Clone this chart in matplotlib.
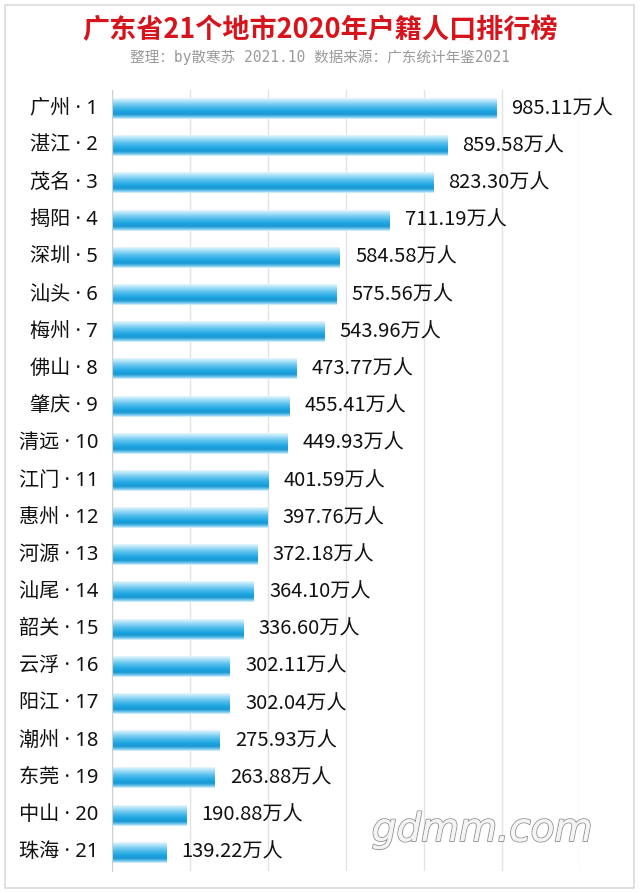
import numpy as np
import matplotlib
matplotlib.use('Agg')
import matplotlib.pyplot as plt
import matplotlib.patheffects as pe
from matplotlib.colors import LinearSegmentedColormap
from matplotlib.patches import Rectangle

plt.rcParams['font.family'] = ['Noto Sans CJK SC', 'DejaVu Sans']

cities = ['广州', '湛江', '茂名', '揭阳', '深圳', '汕头', '梅州', '佛山', '肇庆', '清远', '江门',
          '惠州', '河源', '汕尾', '韶关', '云浮', '阳江', '潮州', '东莞', '中山', '珠海']
population = [985.11, 859.58, 823.30, 711.19, 584.58, 575.56, 543.96, 473.77, 455.41, 449.93, 401.59,
              397.76, 372.18, 364.10, 336.60, 302.11, 302.04, 275.93, 263.88, 190.88, 139.22]
title = '广东省21个地市2020年户籍人口排行榜'
subtitle = '整理：by散寒苏 2021.10 数据来源：广东统计年鉴2021'

fig = plt.figure(figsize=(6.4, 8.93), dpi=100)
fig.patch.set_facecolor('white')
# thin grey frame around the picture
fig.patches.append(Rectangle((5 / 640, 5 / 893), 629 / 640, 883 / 893, transform=fig.transFigure,
                             fill=False, edgecolor='#dadada', linewidth=1.2))

ax = fig.add_axes([112 / 640, 1 - 871 / 893, 468 / 640, 781 / 893])

# cylinder-like vertical gradient, top -> bottom
grad = LinearSegmentedColormap.from_list('bar', [
    (0.0, '#e6f6fd'), (0.15, '#a9e1f8'), (0.4, '#52bdec'),
    (0.62, '#1ea6e2'), (0.78, '#1998d2'), (0.92, '#7ccbef'), (1.0, '#e0f3fc')])
g = np.linspace(0, 1, 64).reshape(-1, 1)

n = len(cities)
h = 0.56
label_font = ['Noto Sans', 'Noto Sans CJK SC']
for i, (c, v) in enumerate(zip(cities, population)):
    ax.imshow(g, cmap=grad, aspect='auto', extent=[0, v, i + h / 2, i - h / 2],
              origin='upper', zorder=2, interpolation='bilinear')
    ax.annotate(f'{v:.2f}万人', (v, i), xytext=(11, 0), textcoords='offset points',
                va='center', ha='left', fontsize=14.5, color='#111111', annotation_clip=False)
    ax.annotate(f'{c} · {i + 1}', (0, i), xytext=(-10, 0), textcoords='offset points',
                va='center', ha='right', fontsize=14.5, color='#111111', family=label_font,
                annotation_clip=False)

ax.set_xlim(0, 1200)
ax.set_ylim(n - 0.5, -0.5)
ax.set_xticks(np.arange(0, 1201, 200))
ax.grid(axis='x', color='#e3e3e3', linewidth=1)
ax.set_axisbelow(True)
ax.tick_params(left=False, bottom=False, labelleft=False, labelbottom=False)
for s in ['top', 'right', 'bottom']:
    ax.spines[s].set_visible(False)
ax.spines['left'].set_color('#cfcfcf')

fig.text(0.5, 1 - 30 / 893, title, ha='center', va='center', fontsize=19.5,
         fontweight='bold', color='#d7141c')
fig.text(0.5, 1 - 57 / 893, subtitle, ha='center', va='center', fontsize=10.5,
         color='#9a9a9a', family=['DejaVu Sans Mono', 'Noto Sans CJK SC'])

# watermark
fig.text(482 / 640, 1 - 830 / 893, 'gdmm.com', ha='center', va='center', fontsize=28,
         family='DejaVu Sans', style='italic', color='#f4f4f4',
         path_effects=[pe.withStroke(linewidth=1.5, foreground='#9a9a9a'), pe.Normal()])

fig.savefig('out.png', dpi=100)
